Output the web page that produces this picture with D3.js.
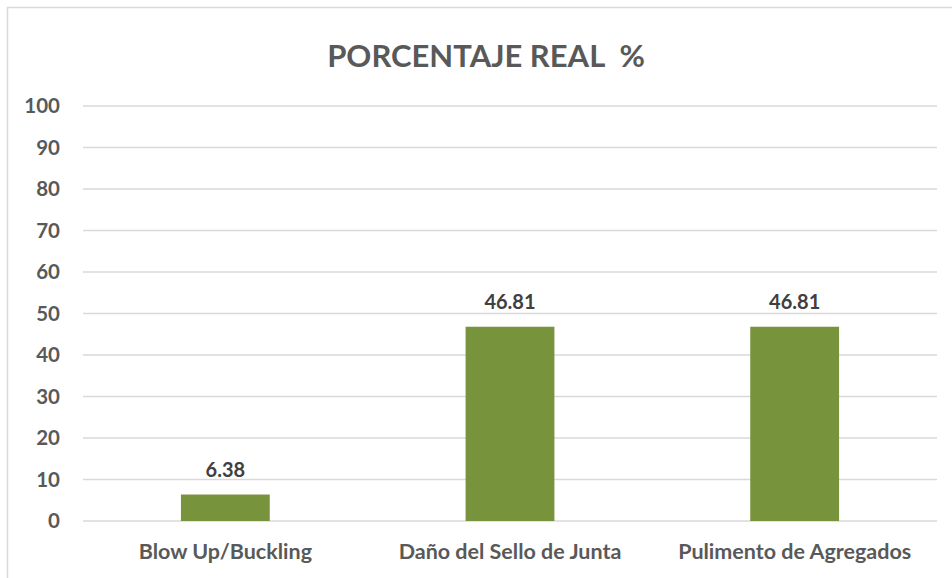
<!DOCTYPE html>
<html><head><meta charset="utf-8">
<script src="https://cdn.jsdelivr.net/npm/d3@7"></script>
<style>body{margin:0;background:#fff;}svg{display:block;}</style>
</head><body>
<script>
const categories = ["Blow Up/Buckling", "Daño del Sello de Junta", "Pulimento de Agregados"];
const values = [6.38, 46.81, 46.81];
const yTicks = [0, 10, 20, 30, 40, 50, 60, 70, 80, 90, 100];
const title = "PORCENTAJE REAL  %";

const W = 952, H = 578;
const svg = d3.select("body").append("svg").attr("width", W).attr("height", H);
const font = "Lato, 'Open Sans', sans-serif";
const grey = "#595959";

svg.append("rect").attr("x", 7.5).attr("y", 7.5).attr("width", 960).attr("height", 600)
  .attr("fill", "#fff").attr("stroke", "#d9d9d9").attr("stroke-width", 1.5);

const x = d3.scaleBand().domain(categories).range([83, 937]).padding(0);
const y = d3.scaleLinear().domain([0, 100]).range([521, 106]);
const barW = x.bandwidth() * 0.312;

svg.append("g").selectAll("line").data(yTicks).join("line")
  .attr("x1", 83).attr("x2", 937)
  .attr("y1", d => y(d)).attr("y2", d => y(d))
  .attr("stroke", "#d9d9d9").attr("stroke-width", 1.5);

svg.append("g").selectAll("text").data(yTicks).join("text")
  .attr("x", 60).attr("y", d => y(d)).attr("dy", "0.36em")
  .attr("text-anchor", "end").attr("font-family", font).attr("font-weight", "bold")
  .attr("font-size", 20.5).attr("fill", grey).text(d => d);

svg.append("g").selectAll("rect").data(values).join("rect")
  .attr("x", (d, i) => x(categories[i]) + x.bandwidth() / 2 - barW / 2)
  .attr("y", d => y(d)).attr("width", barW).attr("height", d => y(0) - y(d))
  .attr("fill", "#77933c");

svg.append("g").selectAll("text").data(values).join("text")
  .attr("x", (d, i) => x(categories[i]) + x.bandwidth() / 2)
  .attr("y", d => y(d) - 18)
  .attr("text-anchor", "middle").attr("font-family", font).attr("font-weight", "bold")
  .attr("font-size", 20).attr("fill", "#404040").text(d => d.toFixed(2));

svg.append("g").selectAll("text").data(categories).join("text")
  .attr("x", d => x(d) + x.bandwidth() / 2).attr("y", 559)
  .attr("text-anchor", "middle").attr("font-family", font).attr("font-weight", "bold")
  .attr("font-size", 21.5).attr("fill", grey).text(d => d);

svg.append("text").attr("x", 486).attr("y", 67).attr("text-anchor", "middle")
  .style("white-space", "pre")
  .attr("font-family", font).attr("font-weight", "bold").attr("font-size", 31)
  .attr("fill", grey).text(title);
</script>
</body></html>
